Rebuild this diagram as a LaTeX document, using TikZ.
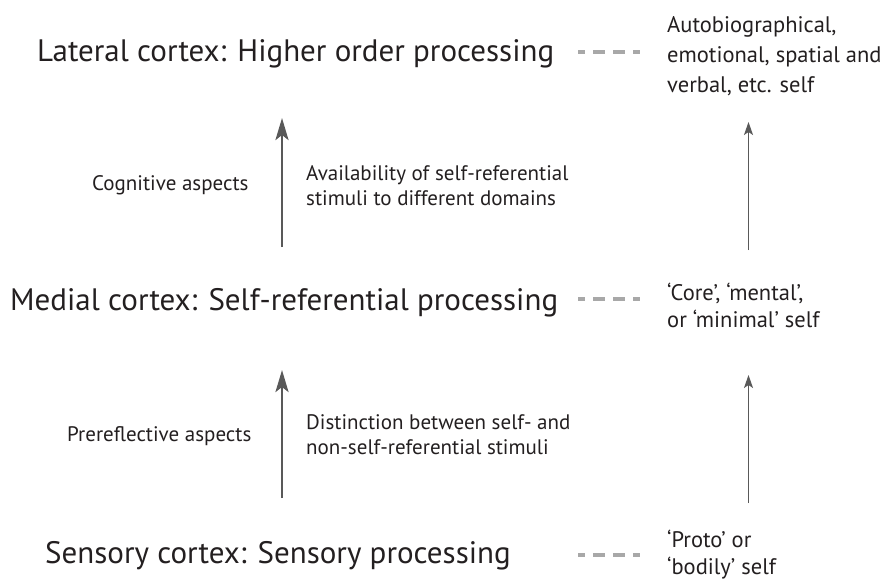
\documentclass[tikz,border=0pt]{standalone}
\usepackage{fontspec}
\setmainfont{PT Sans}
\usetikzlibrary{arrows.meta}
\definecolor{ink}{HTML}{231F20}
\definecolor{arrowgray}{HTML}{595959}
\definecolor{dashgray}{HTML}{A8A8A8}
\begin{document}
\begin{tikzpicture}[x=1pt,y=-1pt,
  level/.style={anchor=base west, inner sep=0pt, text=ink, font=\fontsize{31}{36}\selectfont},
  aspect/.style={anchor=base west, inner sep=0pt, text=ink, font=\fontsize{21}{25}\selectfont, align=left},
  selfbox/.style={anchor=base west, inner sep=0pt, text=ink, font=\fontsize{22.5}{27}\selectfont, align=left},
  bigarrow/.style={draw=arrowgray, line width=2.6pt, -{Stealth[length=22pt, width=13pt, inset=5pt]}},
  thinarrow/.style={draw=arrowgray, line width=1.3pt, -{Stealth[length=13pt, width=9pt, inset=3pt]}},
  dashlink/.style={draw=dashgray, line width=4pt, dash pattern=on 12pt off 8pt, dash phase=5pt}
]
\useasboundingbox (0,0) rectangle (890,581);

% level texts
\node[level] (lat) at (37,61) {Lateral cortex: Higher order processing};
\node[level] (med) at (10,310) {Medial cortex: Self-referential processing};
\node[level] (sen) at (45,563) {Sensory cortex: Sensory processing};

% aspects
\node[aspect] (cog) at (92,190) {Cognitive aspects};
\node[aspect] (pre) at (67,441) {Prereflective aspects};
\node[aspect] (avail) at (306,205) {Availability of self-referential\\stimuli to different domains};
\node[aspect] (dist) at (306,454) {Distinction between self- and\\non-self-referential stimuli};

% self texts
\node[selfbox, font=\fontsize{22.5}{30}\selectfont] (auto) at (667,92) {Autobiographical,\\emotional, spatial and\\verbal, etc. self};
\node[selfbox] (core) at (667,327) {‘Core’, ‘mental’,\\or ‘minimal’ self};
\node[selfbox] (proto) at (667,574) {‘Proto’ or\\‘bodily’ self};

% arrow end points
\coordinate (la1) at (282,247);
\coordinate (la2) at (282,118);
\coordinate (lb1) at (282,498);
\coordinate (lb2) at (282,370);
\coordinate (ra1) at (748.5,250);
\coordinate (ra2) at (748.5,122);
\coordinate (rb1) at (748.5,503);
\coordinate (rb2) at (748.5,375);

\draw[bigarrow] (la1) -- (la2);
\draw[bigarrow] (lb1) -- (lb2);
\draw[thinarrow] (ra1) -- (ra2);
\draw[thinarrow] (rb1) -- (rb2);

% dashed links
\coordinate (d1a) at (578,52);  \coordinate (d1b) at (640,52);
\coordinate (d2a) at (578,299); \coordinate (d2b) at (640,299);
\coordinate (d3a) at (578,555); \coordinate (d3b) at (640,555);
\draw[dashlink] (d1a) -- (d1b);
\draw[dashlink] (d2a) -- (d2b);
\draw[dashlink] (d3a) -- (d3b);
\end{tikzpicture}
\end{document}
